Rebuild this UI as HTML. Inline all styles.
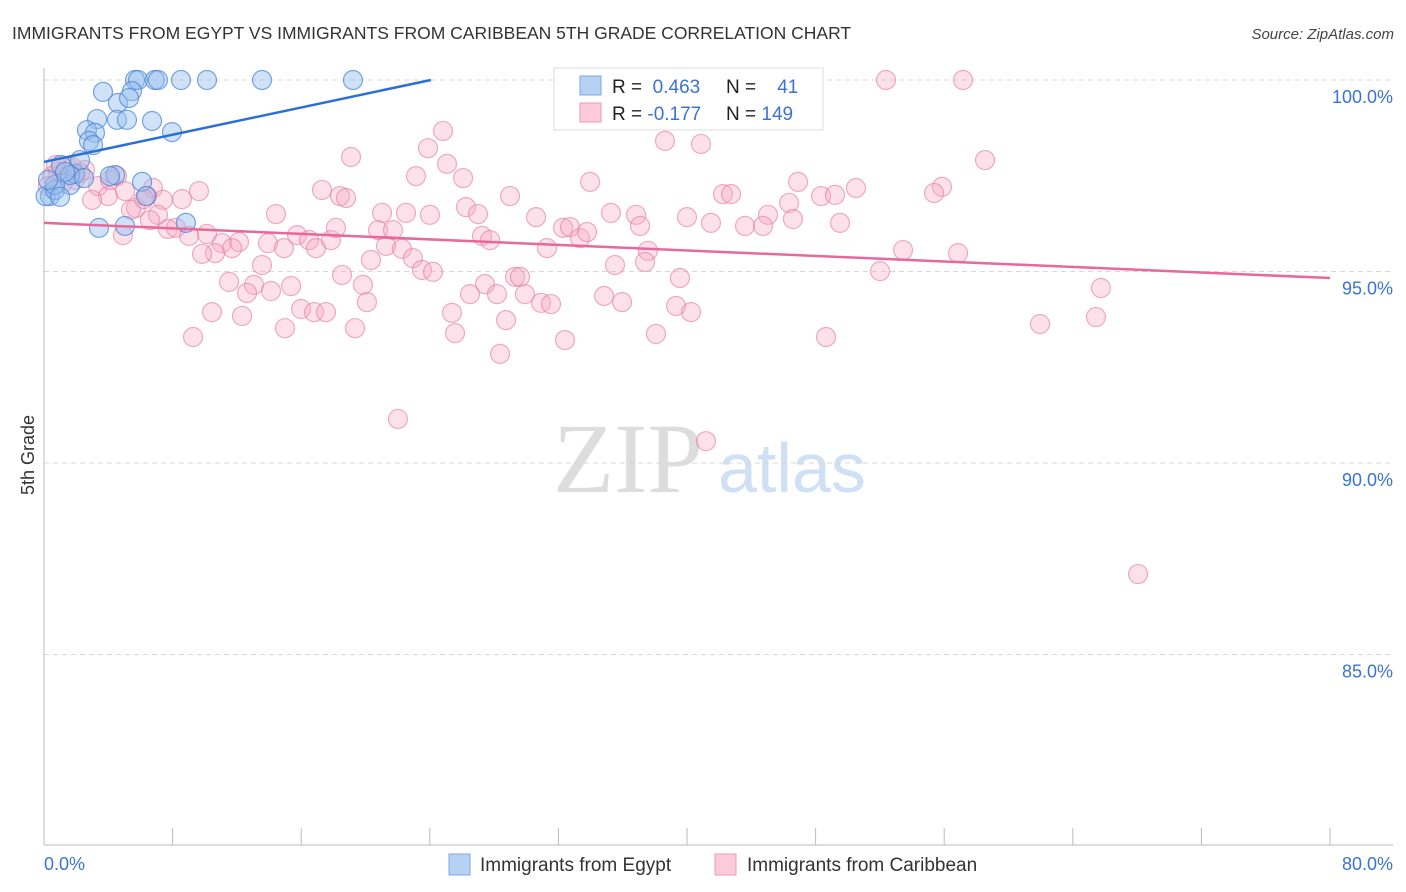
<!DOCTYPE html>
<html><head><meta charset="utf-8"><style>
body{margin:0;background:#fff;font-family:"Liberation Sans",sans-serif;}
svg{display:block}
</style></head><body>
<svg id="chart" width="1406" height="892" xmlns="http://www.w3.org/2000/svg">
<text x="12" y="39" font-size="17.5" fill="#333">IMMIGRANTS FROM EGYPT VS IMMIGRANTS FROM CARIBBEAN 5TH GRADE CORRELATION CHART</text>
<text x="1394" y="39" font-size="15" fill="#444" font-style="italic" text-anchor="end">Source: ZipAtlas.com</text>
<text transform="translate(34,455) rotate(-90)" font-size="18" fill="#333" text-anchor="middle">5th Grade</text>
<g>
<text x="553" y="492" font-size="100" fill="#ddd" font-family="Liberation Serif">ZIP</text>
<text x="718" y="492" font-size="70" fill="#cfe0f4">atlas</text>
</g>
<g id="grid"></g>
<g id="axes"></g>
<g id="pinkPts"></g>
<g id="bluePts"></g>
<g id="trends"></g>
<g>
<rect x="554" y="68" width="269" height="62" fill="#fff" stroke="#ddd"/>
<rect x="580" y="76" width="21" height="19" fill="#b7d1f4" stroke="#7ea8e3"/>
<rect x="580" y="103" width="21" height="19" fill="#fbcadb" stroke="#ee9bb7"/>
<text x="612" y="93" font-size="19" fill="#222">R = <tspan fill="#3b73d1">&#160;0.463</tspan></text>
<text x="726" y="93" font-size="19" fill="#222">N = <tspan fill="#3b73d1">&#160;&#160;&#160;41</tspan></text>
<text x="612" y="120" font-size="19" fill="#222">R = <tspan fill="#3b73d1">-0.177</tspan></text>
<text x="726" y="120" font-size="19" fill="#222">N = <tspan fill="#3b73d1">149</tspan></text>
</g>
<g>
<rect x="449" y="854" width="21" height="21" fill="#b7d1f4" stroke="#7ea8e3"/>
<text x="480" y="871" font-size="19" fill="#333">Immigrants from Egypt</text>
<rect x="715" y="854" width="21" height="21" fill="#fbcadb" stroke="#ee9bb7"/>
<text x="747" y="871" font-size="19" fill="#333">Immigrants from Caribbean</text>
</g>
</svg>
<script>
const yTicks=[100,95,90,85];
const yTickLabels=["100.0%","95.0%","90.0%","85.0%"];
const xTicks=[0,10,20,30,40,50,60,70,80];
const xEndLabels=["0.0%","80.0%"];
const blueX=[5.66,5.85,6.9,7.09,8.52,10.14,13.56,19.22,3.67,5.47,4.6,5.29,3.3,4.54,5.16,6.72,2.67,3.17,2.8,3.05,7.96,0.37,0.1,0.68,1.06,1.62,1.93,2.24,6.1,4.42,6.35,8.83,3.42,5.04,1.62,0.68,0.25,1.31,4.1,1.0,2.49];
const blueY=[100,100,100,100,100,100,100,100,99.69,99.71,99.4,99.53,98.98,98.96,98.96,98.93,98.69,98.62,98.41,98.3,98.64,96.97,96.97,97.13,97.78,97.26,97.55,97.91,97.34,97.52,96.97,96.27,96.14,96.19,97.52,97.26,97.39,97.6,97.49,96.95,97.44];
const pinkX=[52.38,57.17,24.82,38.63,40.87,23.89,19.10,58.54,25.07,23.14,26.07,33.97,46.91,50.51,55.86,55.37,17.29,18.41,18.79,28.99,42.24,42.74,48.34,49.21,46.35,4.54,3.36,3.98,6.78,9.64,8.58,7.40,5.72,14.43,21.03,22.52,24.01,26.25,27.00,30.61,35.27,36.83,40.00,41.49,45.04,46.59,49.52,43.61,44.73,7.09,7.71,8.21,9.02,10.14,4.91,12.13,11.07,11.70,13.93,14.93,15.74,16.49,16.92,17.85,18.16,20.78,21.71,21.28,22.27,22.95,23.51,24.20,27.25,27.75,31.29,32.29,32.72,33.34,33.78,37.08,37.57,37.39,53.44,56.86,20.34,13.56,10.64,9.83,11.51,13.06,14.12,15.37,12.63,19.84,20.09,18.54,29.30,29.61,27.43,26.50,28.18,29.92,30.92,31.54,35.52,34.84,35.96,39.56,39.32,40.25,52.01,65.75,10.45,12.32,15.99,16.80,17.54,25.38,28.74,14.99,19.35,25.57,32.41,38.07,48.65,61.96,65.44,9.27,28.37,22.02,41.18,68.06,0.87,1.43,1.93,1.18,2.55,0.50,0.25,2.99,4.11,5.04,6.41,1.74,2.24,0.75,5.41,6.22,6.59];
const pinkY=[100,100,98.67,98.41,98.33,98.22,97.99,97.91,97.81,97.49,97.44,97.34,97.34,97.18,97.21,97.05,97.13,96.97,96.92,96.97,97.02,97.02,96.97,97.00,96.79,97.49,97.23,96.97,97.18,97.10,96.89,96.87,96.66,96.50,96.53,96.53,96.48,96.68,96.50,96.42,96.53,96.48,96.42,96.27,96.48,96.37,96.27,96.19,96.19,96.48,96.11,96.14,95.93,95.98,95.95,95.77,95.74,95.61,95.74,95.61,95.95,95.82,95.61,95.82,96.14,96.08,96.08,95.67,95.59,95.35,95.04,94.99,95.93,95.82,95.61,96.14,96.16,95.87,96.03,96.19,95.54,95.25,95.56,95.48,95.30,95.17,95.48,95.46,94.73,94.65,94.49,94.62,94.44,94.65,94.20,94.91,94.86,94.86,94.67,94.41,94.41,94.41,94.18,94.15,95.17,94.36,94.20,94.83,94.10,93.94,95.01,94.57,93.94,93.84,94.02,93.94,93.94,93.92,93.73,93.52,93.52,93.39,93.21,93.37,93.29,93.63,93.81,93.29,92.85,91.15,90.57,87.10,97.60,97.75,97.39,97.31,97.65,97.49,97.23,96.87,97.39,97.10,96.97,97.73,97.57,97.78,96.61,96.89,96.34];
const blueTrendX=[0,24.07];
const blueTrendY=[97.86,100];
const pinkTrendX=[0,80];
const pinkTrendY=[96.27,94.83];

const X0=44,X1=1330;
const xs=v=>X0+(v/80)*(X1-X0);
const ys=v=>80+(100-v)*38.3;
const NS="http://www.w3.org/2000/svg";
function mk(tag,parent,attrs){const e=document.createElementNS(NS,tag);for(const k in attrs)e.setAttribute(k,attrs[k]);document.getElementById(parent).appendChild(e);return e;}

yTicks.forEach((t,i)=>{
  const l=mk('line','grid',{x1:44,x2:1393,y1:ys(t),y2:ys(t),stroke:'#d8d8d8','stroke-dasharray':'5,4'});
  
  
  const tx=mk('text','grid',{x:1393,y:ys(t)+23,'font-size':18,fill:'#3b73d1','text-anchor':'end'});
  tx.textContent=yTickLabels[i];
  
  
});
const ya=mk('line','axes',{x1:44,x2:44,y1:68,y2:845,stroke:'#bbb'});


const xa=mk('line','axes',{x1:44,x2:1393,y1:845,y2:845,stroke:'#bbb'});


for(let v=0;v<=80;v+=8){
  const t=mk('line','axes',{x1:xs(v),x2:xs(v),y1:828,y2:845,stroke:'#bbb'});
  
  
}
const xl0=mk('text','axes',{x:44,y:870,'font-size':18,fill:'#3b73d1'});
xl0.textContent=xEndLabels[0];


const xl1=mk('text','axes',{x:1393,y:870,'font-size':18,fill:'#3b73d1','text-anchor':'end'});
xl1.textContent=xEndLabels[1];



pinkX.forEach((x,i)=>{
  const c=mk('circle','pinkPts',{cx:xs(x),cy:ys(pinkY[i]),r:9.5,fill:'rgba(246,170,196,0.35)',stroke:'rgba(228,120,158,0.6)','stroke-width':1.2});
  
  
});
blueX.forEach((x,i)=>{
  const c=mk('circle','bluePts',{cx:xs(x),cy:ys(blueY[i]),r:9.5,fill:'rgba(150,190,240,0.45)',stroke:'rgba(70,130,210,0.7)','stroke-width':1.2});
  
  
});
const bt=mk('line','trends',{x1:xs(blueTrendX[0]),y1:ys(blueTrendY[0]),x2:xs(blueTrendX[1]),y2:ys(blueTrendY[1]),stroke:'#2a6fd6','stroke-width':2.5});


const pt=mk('line','trends',{x1:xs(pinkTrendX[0]),y1:ys(pinkTrendY[0]),x2:xs(pinkTrendX[1]),y2:ys(pinkTrendY[1]),stroke:'#e8689a','stroke-width':2.5});


</script>
</body></html>
